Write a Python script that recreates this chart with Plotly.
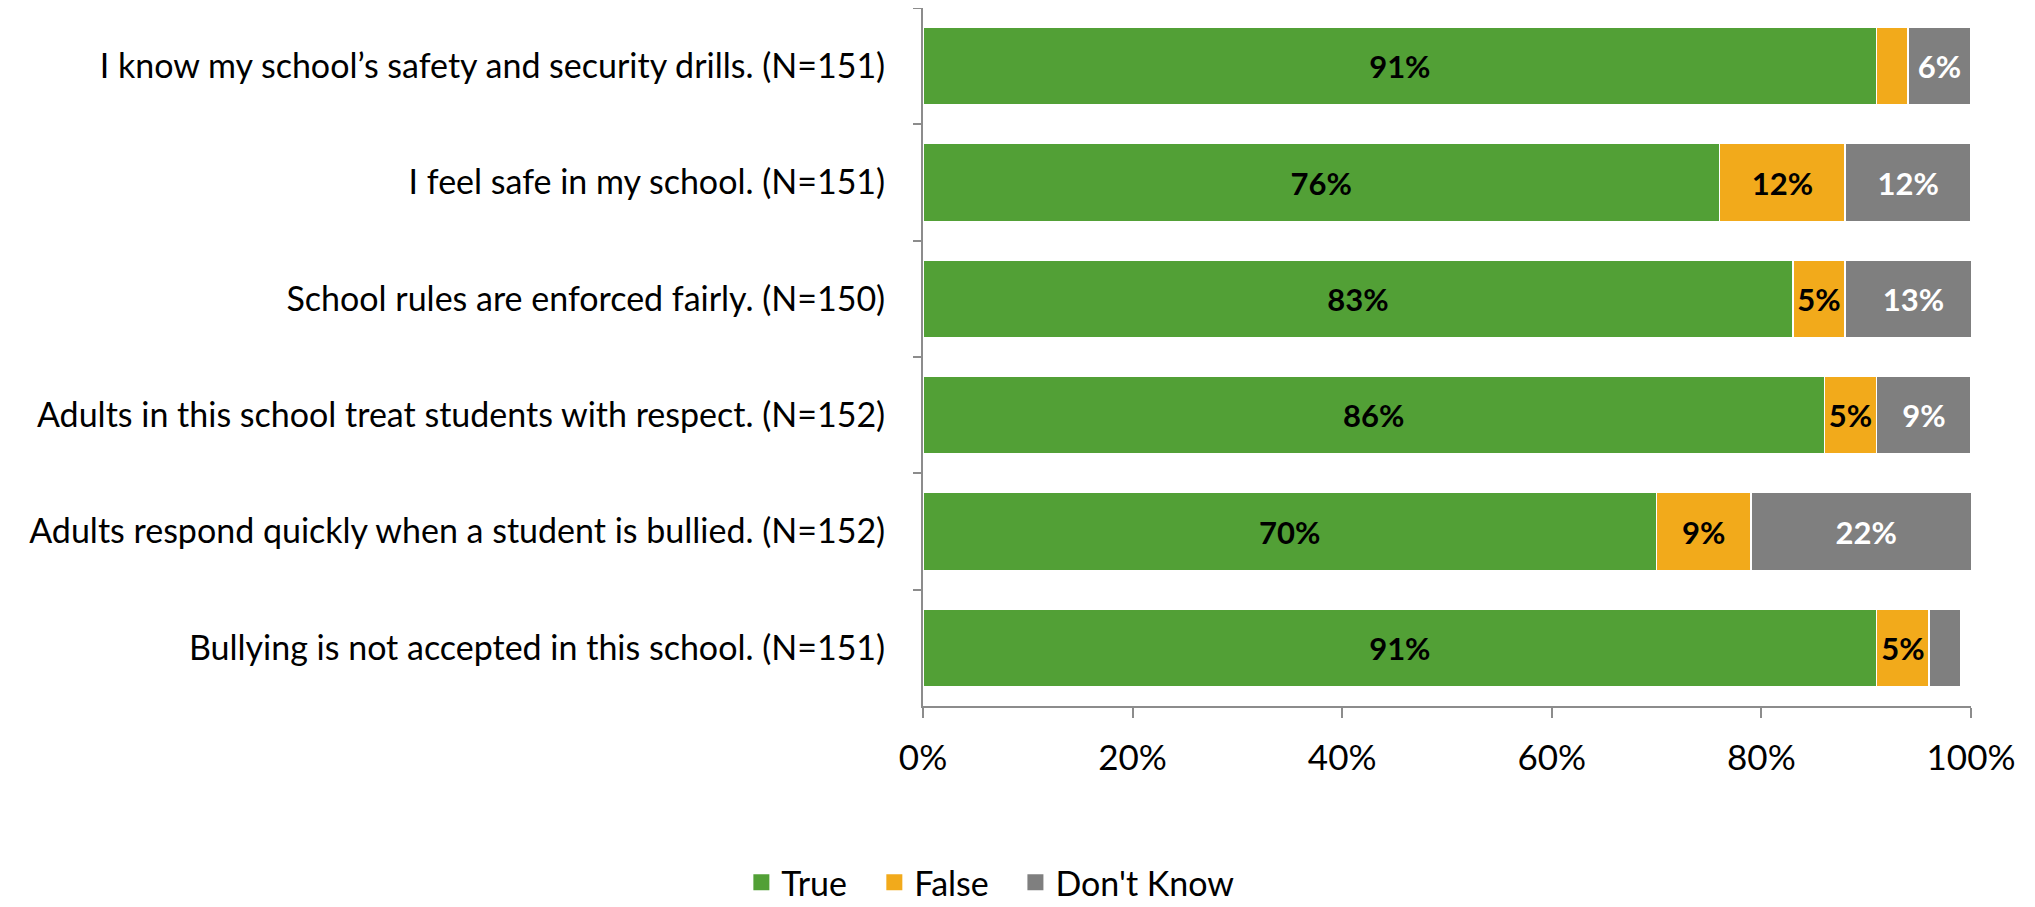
import plotly.graph_objects as go

# Survey items (top to bottom) and response shares in percent
questions = [
    "I know my school’s safety and security drills. (N=151)",
    "I feel safe in my school. (N=151)",
    "School rules are enforced fairly. (N=150)",
    "Adults in this school treat students with respect. (N=152)",
    "Adults respond quickly when a student is bullied. (N=152)",
    "Bullying is not accepted in this school. (N=151)",
]
true_pct = [91, 76, 83, 86, 70, 91]
false_pct = [3, 12, 5, 5, 9, 5]
dont_know_pct = [6, 12, 13, 9, 22, 3]

series = [
    ("True", true_pct, "#52A036", "black"),
    ("False", false_pct, "#F2AA1B", "black"),
    ("Don't Know", dont_know_pct, "#7F7F7F", "white"),
]

FONT = "Lato"

fig = go.Figure()
for name, vals, color, txtcolor in series:
    # small segments are left unlabeled, as in the original
    labels = [f"<b>{v}%</b>" if v >= 5 else "" for v in vals]
    fig.add_trace(go.Bar(
        y=questions,
        x=vals,
        name=name,
        orientation="h",
        marker=dict(color=color, line=dict(color="white", width=1.5)),
        text=labels,
        texttemplate="%{text}",
        textposition="inside",
        insidetextanchor="middle",
        textangle=0,
        textfont=dict(family=FONT, size=31, color=txtcolor),
        hoverinfo="x+y+name",
        showlegend=False,
    ))

# legend entries with bigger square swatches, one small legend per item
# so the spacing can follow the original
legend_ids = ["legend", "legend2", "legend3"]
legend_x = [0.3618, 0.4274, 0.4970]
for (name, vals, color, txtcolor), lid in zip(series, legend_ids):
    fig.add_trace(go.Scatter(
        x=[None], y=[None],
        mode="markers",
        name=name,
        legend=lid,
        marker=dict(symbol="square", size=19, color=color),
        hoverinfo="skip",
    ))

legend_style = dict(
    orientation="h",
    xref="container", yref="container",
    xanchor="left", yanchor="middle",
    y=0.027,
    font=dict(family=FONT, size=34),
    bgcolor="rgba(0,0,0,0)",
)

# page body adds an 8px offset, so the figure is sized 8px smaller
fig.update_layout(
    barmode="stack",
    bargap=0.33,
    width=2027,
    height=899,
    margin=dict(l=915, r=64, t=0, b=201, autoexpand=False),
    paper_bgcolor="white",
    plot_bgcolor="white",
    font=dict(family=FONT, size=34, color="black"),
    uniformtext=dict(minsize=20, mode="show"),
    legend=dict(legend_style, x=legend_x[0]),
    legend2=dict(legend_style, x=legend_x[1]),
    legend3=dict(legend_style, x=legend_x[2]),
    showlegend=True,
)

fig.update_xaxes(
    range=[0, 100],
    tickvals=[0, 20, 40, 60, 80, 100],
    ticktext=["0%", "20%", "40%", "60%", "80%", "100%"],
    ticks="outside",
    ticklen=10,
    tickwidth=2,
    tickcolor="#8C8C8C",
    showline=True,
    linecolor="#8C8C8C",
    linewidth=2,
    showgrid=False,
    zeroline=False,
    ticklabelstandoff=10,
    tickfont=dict(size=35),
)

fig.update_yaxes(
    autorange="reversed",
    ticks="outside",
    tickson="boundaries",
    ticklen=8,
    tickwidth=2,
    tickcolor="#8C8C8C",
    showline=True,
    linecolor="#8C8C8C",
    linewidth=2,
    showgrid=False,
    ticklabelstandoff=29,
    tickfont=dict(size=34),
)

fig.write_html("out.html")
